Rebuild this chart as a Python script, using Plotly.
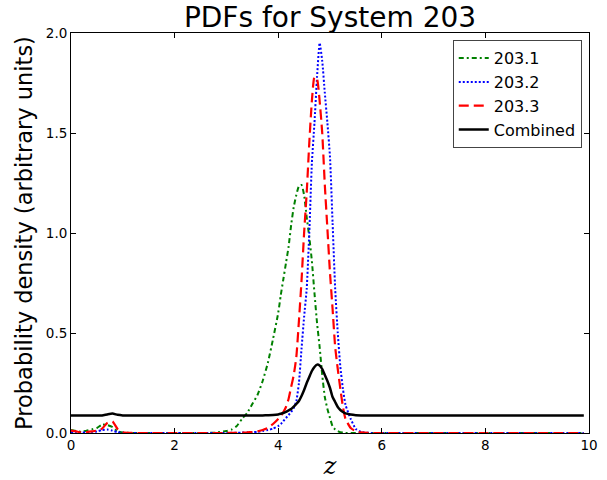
import plotly.graph_objects as go

# Redshift grid (shared by all curves)
z = [0.0, 0.1, 0.2, 0.3, 0.4, 0.5, 0.6, 0.7, 0.8, 0.9, 1.0, 1.2, 1.5, 2.0, 2.5, 2.8,
     3.0, 3.1, 3.2, 3.3, 3.4, 3.5, 3.6, 3.7, 3.8, 3.9, 4.0, 4.05, 4.1, 4.15, 4.2, 4.25,
     4.3, 4.35, 4.4, 4.45, 4.5, 4.55, 4.6, 4.65, 4.7, 4.75, 4.8, 4.85, 4.9, 4.95, 5.0,
     5.05, 5.1, 5.15, 5.2, 5.25, 5.3, 5.4, 5.5, 5.6, 5.8, 6.0, 7.0, 8.0, 9.0, 9.9]

pdf_203_1 = [0.015, 0.01, 0.005, 0.012, 0.018, 0.025, 0.042, 0.04, 0.03, 0.008, 0.002, 0.0, 0.0, 0.0, 0.0, 0.002,
             0.01, 0.017, 0.035, 0.07, 0.10, 0.145, 0.19, 0.26, 0.35, 0.47, 0.60, 0.69, 0.77, 0.85, 0.93, 1.04,
             1.13, 1.19, 1.235, 1.24, 1.19, 1.08, 0.98, 0.86, 0.70, 0.55, 0.43, 0.29, 0.18, 0.12, 0.075,
             0.033, 0.018, 0.01, 0.004, 0.002, 0.0, 0.0, 0.0, 0.0, 0.0, 0.0, 0.0, 0.0, 0.0, 0.0]

pdf_203_2 = [0.005, 0.003, 0.002, 0.003, 0.005, 0.008, 0.015, 0.017, 0.012, 0.004, 0.001, 0.0, 0.0, 0.0, 0.0, 0.0,
             0.0, 0.001, 0.001, 0.002, 0.003, 0.004, 0.006, 0.01, 0.015, 0.022, 0.035, 0.045, 0.06, 0.075, 0.09, 0.105,
             0.125, 0.16, 0.25, 0.42, 0.58, 0.72, 1.0, 1.35, 1.55, 1.78, 1.95, 1.86, 1.70, 1.55, 1.38,
             1.05, 0.72, 0.50, 0.33, 0.22, 0.14, 0.07, 0.02, 0.005, 0.0, 0.0, 0.0, 0.0, 0.0, 0.0]

pdf_203_3 = [0.012, 0.008, 0.003, 0.005, 0.008, 0.012, 0.022, 0.05, 0.058, 0.02, 0.003, 0.0, 0.0, 0.0, 0.0, 0.0,
             0.0, 0.001, 0.001, 0.002, 0.003, 0.005, 0.008, 0.015, 0.025, 0.045, 0.07, 0.085, 0.105, 0.13, 0.17, 0.23,
             0.29, 0.38, 0.56, 0.76, 1.0, 1.2, 1.45, 1.66, 1.78, 1.77, 1.66, 1.50, 1.24, 1.02, 0.80,
             0.62, 0.43, 0.32, 0.22, 0.13, 0.07, 0.025, 0.008, 0.003, 0.0, 0.0, 0.0, 0.0, 0.0, 0.0]

pdf_combined = [0.087, 0.087, 0.087, 0.087, 0.087, 0.087, 0.088, 0.093, 0.097, 0.091, 0.088, 0.087, 0.087, 0.087, 0.087, 0.087,
                0.087, 0.087, 0.087, 0.087, 0.087, 0.087, 0.088, 0.088, 0.089, 0.09, 0.093, 0.096, 0.10, 0.106, 0.113, 0.12,
                0.132, 0.145, 0.16, 0.185, 0.215, 0.25, 0.28, 0.31, 0.33, 0.342, 0.338, 0.32, 0.29, 0.26, 0.225,
                0.18, 0.155, 0.13, 0.115, 0.105, 0.098, 0.092, 0.089, 0.088, 0.087, 0.087, 0.087, 0.087, 0.087, 0.087]

series_names = ["203.1", "203.2", "203.3", "Combined"]
x_ticks = [0, 2, 4, 6, 8, 10]
y_ticks = [0.0, 0.5, 1.0, 1.5, 2.0]

fig = go.Figure()
styles = [
    (pdf_203_1, "#008000", 2, "5px,3px,2px,3px"),
    (pdf_203_2, "#0000ff", 2, "2px,2px"),
    (pdf_203_3, "#ff0000", 2.2, "10px,5px"),
    (pdf_combined, "#000000", 2.5, "solid"),
]
for name, (vals, col, w, dash) in zip(series_names, styles):
    fig.add_trace(go.Scatter(x=z, y=vals, mode="lines", name=name,
                             line=dict(color=col, width=w, dash=dash, shape="spline", smoothing=0.5)))

axis_common = dict(showline=True, linecolor="black", linewidth=1, mirror="ticks",
                   ticks="inside", ticklen=5, tickwidth=1, tickcolor="black",
                   showgrid=False, zeroline=False, automargin=False,
                   tickfont=dict(family="DejaVu Sans", size=13.5, color="black"))

fig.update_layout(
    width=607, height=480,
    margin=dict(l=71, r=18, t=33, b=47),
    paper_bgcolor="white", plot_bgcolor="white",
    title=dict(text="PDFs for System 203", x=330 / 607,
               xanchor="center", y=1 - 17 / 480, yanchor="middle", yref="container",
               font=dict(family="DejaVu Sans", size=28, color="black")),
    xaxis=dict(range=[0, 10], tickvals=x_ticks, ticktext=[str(v) for v in x_ticks],
               title=dict(text="<i>z</i>", font=dict(family="DejaVu Serif", size=24, color="black"), standoff=6),
               **axis_common),
    yaxis=dict(range=[0, 2.0], tickvals=y_ticks, ticktext=["%.1f" % v for v in y_ticks],
               title=dict(text="Probability density (arbitrary units)",
                          font=dict(family="DejaVu Sans", size=22.5, color="black"), standoff=6),
               **axis_common),
    legend=dict(x=0.986, xanchor="right", y=0.982, yanchor="top",
                bgcolor="white", bordercolor="#444", borderwidth=1,
                font=dict(family="DejaVu Sans", size=16, color="black"),
                tracegroupgap=0),
    showlegend=True,
)

fig.write_html("out.html")
